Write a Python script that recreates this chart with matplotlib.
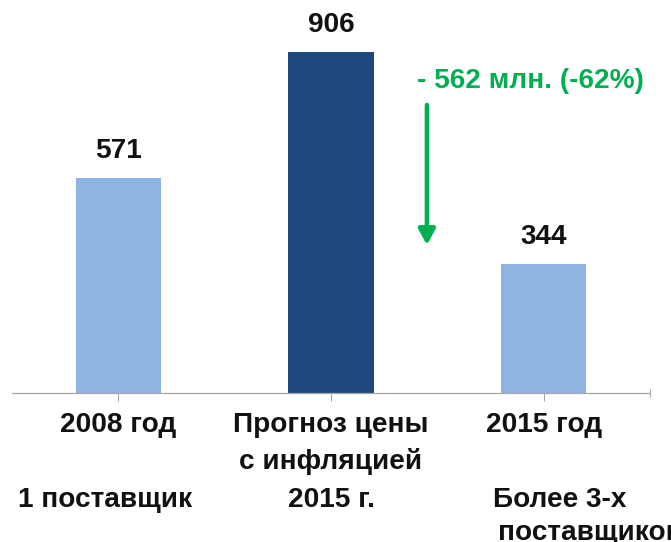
import matplotlib.pyplot as plt

# data
categories = ["2008 год", "Прогноз цены", "2015 год"]
values = [571, 906, 344]
extra_lines = [["1 поставщик"], ["с инфляцией", "2015 г."], ["Более 3-х", "поставщиков"]]
bar_colors = ["#8EB4E3", "#1F497D", "#8EB4E3"]
delta_label = "- 562 млн. (-62%)"

plt.rcParams['font.family'] = ['Liberation Sans', 'DejaVu Sans']
FS = 28

fig = plt.figure(figsize=(671 / 72, 542 / 72), dpi=72)
ax = fig.add_axes([12 / 671, 149 / 542, 638 / 671, 393 / 542])

x = list(range(len(values)))
ax.bar(x, values, width=0.4, color=bar_colors, zorder=2)
ax.set_xlim(-0.5, 2.5)
ax.set_ylim(0, 1044)

for s in ["top", "left", "right"]:
    ax.spines[s].set_visible(False)
ax.spines["bottom"].set_color("#A6A6A6")
ax.spines["bottom"].set_linewidth(1.2)
ax.set_yticks([])
ax.set_xticks(x)
ax.set_xticklabels([])
ax.set_xticks([2.5], minor=True)
ax.tick_params(axis="x", which="major", length=8, color="#A6A6A6", width=1)
ax.tick_params(axis="x", which="minor", length=8, direction="inout", color="#A6A6A6", width=1)


def label(txt, i, dx, dy, ha="center"):
    ax.annotate(txt, xy=(i, 0), xytext=(dx, dy), textcoords="offset points",
                ha=ha, va="baseline", fontsize=FS, fontweight="bold", color="#111111",
                annotation_clip=False)


# value labels
for i, v in enumerate(values):
    ax.annotate(str(v), xy=(i, v), xytext=(0, 20), textcoords="offset points",
                ha="center", va="baseline", fontsize=FS, fontweight="bold", color="#111111")

# category labels
for i, c in enumerate(categories):
    label(c, i, 0, -39)

label(extra_lines[0][0], 0, -13, -114)
label(extra_lines[1][0], 1, 0, -76)
label(extra_lines[1][1], 1, 0, -114)
label(extra_lines[2][0], 2, -51, -114, ha="left")
label(extra_lines[2][1], 2, -46, -147, ha="left")

# decrease arrow and label
ax.annotate("", xy=(1.451, 393), xytext=(1.451, 765),
            arrowprops=dict(arrowstyle="-|>,head_length=1.3,head_width=0.7",
                            color="#00B050", lw=4.5, shrinkA=0, shrinkB=0))
ax.text(1.936, 810, delta_label, ha="center", va="baseline", fontsize=FS,
        fontweight="bold", color="#00B050")

fig.savefig("out.png", dpi=72)
